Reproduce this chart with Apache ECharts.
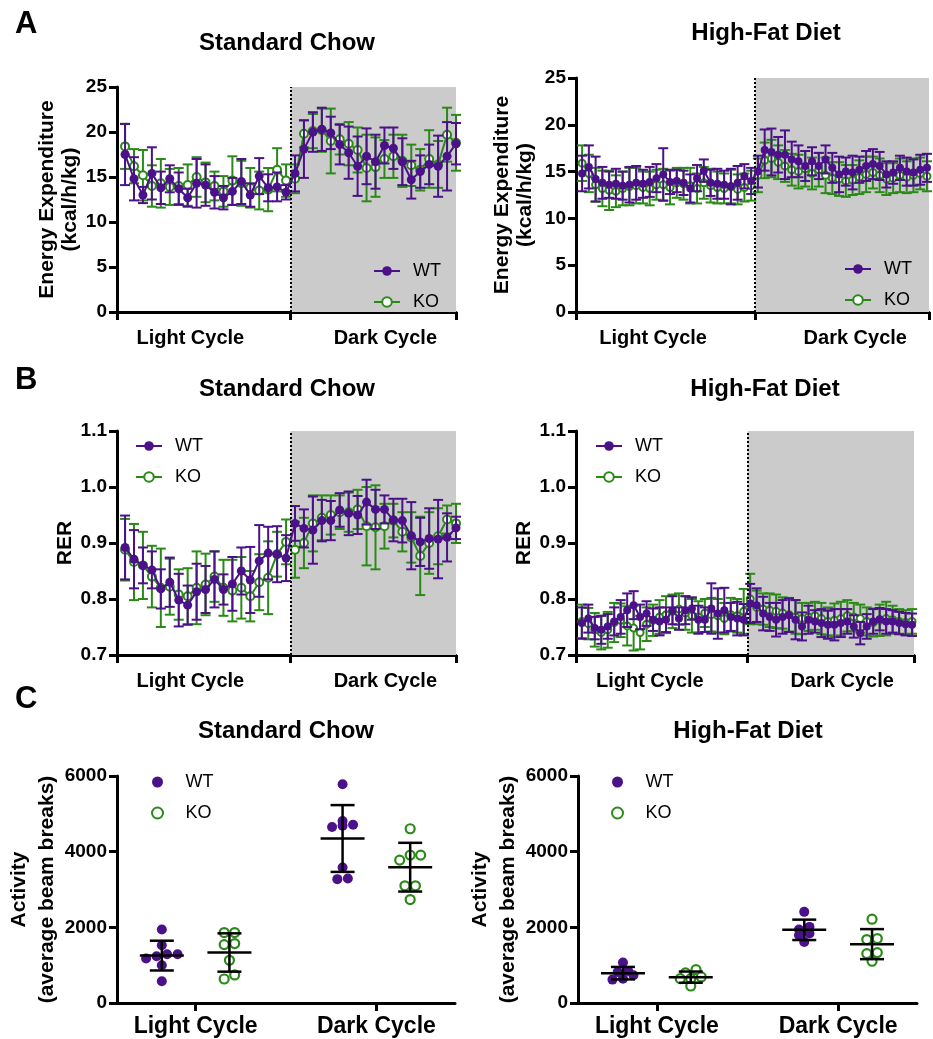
<!DOCTYPE html>
<html>
<head>
<meta charset="utf-8">
<script src="https://cdn.jsdelivr.net/npm/echarts@6/dist/echarts.min.js"></script>
<style>
html, body { margin: 0; padding: 0; background: #fff; }
#chart { width: 933px; height: 1039px; }
</style>
</head>
<body>
<div id="chart"></div>
<script>
// ---------- data ----------
const cycles = ['Light Cycle', 'Dark Cycle'];

// A: energy expenditure (kcal/h/kg), standard chow, 19 light + 19 dark bins
const eeScWt = [17.5, 14.8, 13.0, 15.4, 13.8, 14.8, 13.7, 12.7, 14.3, 14.1, 13.3, 12.7, 13.4, 14.5, 13.0, 15.1, 13.8, 13.9, 13.3,
  15.4, 18.1, 20.0, 20.3, 19.9, 18.6, 17.7, 16.2, 17.3, 16.7, 18.5, 18.2, 16.7, 14.7, 15.6, 16.4, 16.2, 17.3, 18.7];
const eeScWtErr = [3.4, 2.4, 0.9, 2.9, 1.8, 1.5, 1.8, 1.0, 2.7, 2.3, 1.8, 1.3, 1.5, 2.5, 1.3, 2.0, 1.5, 1.6, 0.8,
  2.0, 3.2, 2.2, 2.4, 1.8, 2.2, 2.9, 3.3, 3.1, 3.0, 2.0, 2.3, 2.6, 2.1, 1.8, 2.2, 3.4, 3.8, 2.3];
const eeScKo = [18.4, 16.2, 15.2, 14.0, 14.3, 13.9, 14.0, 14.1, 15.0, 14.4, 14.0, 13.4, 14.6, 14.3, 13.8, 13.5, 13.6, 15.8, 14.6,
  14.8, 19.8, 20.1, 20.2, 19.0, 19.2, 18.7, 18.0, 16.0, 16.1, 17.0, 17.3, 16.8, 16.3, 15.8, 17.0, 16.4, 19.7, 18.8];
const eeScKoErr = [2.5, 1.9, 2.8, 2.3, 2.7, 2.0, 2.0, 2.3, 2.2, 2.2, 1.6, 1.7, 2.7, 2.5, 2.2, 2.1, 2.4, 2.4, 1.8,
  1.6, 1.5, 1.9, 2.4, 3.6, 1.7, 2.4, 2.5, 3.7, 3.3, 2.1, 2.4, 2.9, 2.3, 2.3, 3.2, 2.6, 3.0, 3.1];

// A: energy expenditure, high-fat diet, 26 light + 26 dark bins
const eeHfWt = [14.8, 15.5, 14.2, 13.8, 13.6, 13.7, 13.5, 13.6, 13.8, 13.7, 13.9, 14.3, 14.7, 13.9, 14.0, 13.8, 13.2, 14.3, 15.1, 13.8, 13.7, 13.6, 13.4, 13.8, 14.5, 14.0,
  15.0, 17.3, 17.1, 16.8, 16.8, 16.3, 16.1, 15.6, 16.1, 15.6, 16.3, 15.4, 14.7, 15.0, 14.9, 15.2, 15.6, 15.8, 15.6, 14.7, 14.9, 15.4, 15.0, 14.9, 15.2, 15.4];
const eeHfWtErr = [1.9, 2.3, 2.4, 1.7, 1.4, 1.6, 1.5, 1.9, 1.8, 1.5, 1.6, 1.5, 2.8, 1.3, 1.2, 1.3, 1.5, 1.4, 1.2, 1.4, 1.6, 1.5, 1.9, 1.8, 1.3, 1.4,
  1.7, 2.2, 2.5, 1.9, 2.6, 1.9, 1.7, 1.6, 1.5, 1.4, 1.5, 1.6, 1.9, 1.5, 1.8, 1.4, 1.6, 1.6, 1.5, 1.4, 1.2, 1.3, 1.5, 1.4, 1.6, 1.5];
const eeHfKo = [15.9, 14.8, 13.6, 13.2, 13.0, 12.9, 13.2, 13.4, 13.5, 13.3, 13.2, 13.6, 13.6, 13.3, 13.8, 13.7, 13.5, 13.2, 13.8, 13.5, 13.3, 13.2, 13.4, 13.1, 13.3, 13.5,
  14.6, 16.2, 16.4, 16.0, 15.6, 15.2, 15.0, 15.3, 14.8, 15.2, 14.6, 14.3, 14.2, 14.0, 14.1, 14.4, 14.7, 14.9, 14.6, 14.2, 14.3, 14.6, 14.4, 14.6, 14.8, 14.5];
const eeHfKoErr = [1.9, 2.0, 1.8, 1.9, 2.1, 1.7, 1.8, 2.0, 1.9, 1.7, 1.8, 1.6, 1.7, 1.8, 1.6, 1.7, 1.9, 1.6, 1.7, 1.8, 1.7, 1.6, 1.8, 1.6, 1.5, 1.6,
  1.8, 1.9, 2.0, 1.8, 1.7, 1.7, 1.8, 1.9, 1.7, 1.8, 1.9, 1.7, 1.8, 1.7, 1.6, 1.8, 1.9, 1.7, 1.8, 1.7, 1.6, 1.8, 1.7, 1.8, 1.7, 1.6];

// B: RER, standard chow
const rerScWt = [0.892, 0.871, 0.860, 0.852, 0.818, 0.830, 0.798, 0.789, 0.813, 0.817, 0.835, 0.817, 0.827, 0.850, 0.834, 0.868, 0.882, 0.880, 0.873,
  0.935, 0.926, 0.923, 0.940, 0.940, 0.959, 0.953, 0.950, 0.973, 0.960, 0.960, 0.941, 0.940, 0.913, 0.902, 0.908, 0.907, 0.910, 0.927];
const rerScWtErr = [0.057, 0.052, 0.032, 0.033, 0.035, 0.044, 0.047, 0.035, 0.050, 0.042, 0.050, 0.027, 0.048, 0.042, 0.059, 0.064, 0.047, 0.050, 0.041,
  0.031, 0.034, 0.060, 0.037, 0.035, 0.030, 0.039, 0.034, 0.040, 0.035, 0.025, 0.038, 0.039, 0.060, 0.043, 0.054, 0.070, 0.043, 0.020];
const rerScKo = [0.888, 0.866, 0.860, 0.840, 0.820, 0.822, 0.808, 0.805, 0.820, 0.826, 0.840, 0.820, 0.815, 0.820, 0.805, 0.830, 0.838, 0.880, 0.902,
  0.888, 0.900, 0.935, 0.945, 0.950, 0.955, 0.955, 0.960, 0.930, 0.928, 0.930, 0.940, 0.920, 0.910, 0.877, 0.900, 0.912, 0.942, 0.935];
const rerScKoErr = [0.055, 0.068, 0.060, 0.055, 0.070, 0.050, 0.045, 0.050, 0.065, 0.055, 0.045, 0.050, 0.055, 0.055, 0.045, 0.050, 0.065, 0.040, 0.040,
  0.050, 0.045, 0.050, 0.040, 0.035, 0.030, 0.035, 0.035, 0.070, 0.075, 0.040, 0.030, 0.035, 0.045, 0.070, 0.055, 0.050, 0.025, 0.035];

// B: RER, high-fat diet
const rerHfWt = [0.757, 0.765, 0.748, 0.745, 0.751, 0.760, 0.768, 0.780, 0.789, 0.768, 0.774, 0.763, 0.760, 0.763, 0.780, 0.765, 0.780, 0.783, 0.763, 0.763, 0.783, 0.774, 0.780, 0.768, 0.765, 0.763,
  0.792, 0.789, 0.774, 0.768, 0.763, 0.768, 0.771, 0.763, 0.751, 0.763, 0.760, 0.757, 0.754, 0.754, 0.757, 0.760, 0.751, 0.739, 0.751, 0.760, 0.764, 0.760, 0.760, 0.757, 0.755, 0.754];
const rerHfWtErr = [0.028, 0.025, 0.020, 0.025, 0.022, 0.025, 0.030, 0.030, 0.025, 0.022, 0.022, 0.020, 0.025, 0.022, 0.025, 0.020, 0.025, 0.020, 0.025, 0.022, 0.045, 0.045, 0.040, 0.025, 0.030, 0.028,
  0.035, 0.030, 0.030, 0.025, 0.030, 0.030, 0.030, 0.035, 0.025, 0.025, 0.020, 0.025, 0.025, 0.028, 0.025, 0.022, 0.020, 0.020, 0.022, 0.022, 0.020, 0.022, 0.020, 0.020, 0.020, 0.020];
const rerHfKo = [0.760, 0.756, 0.745, 0.740, 0.745, 0.758, 0.762, 0.752, 0.748, 0.740, 0.755, 0.762, 0.768, 0.772, 0.778, 0.782, 0.775, 0.770, 0.768, 0.775, 0.772, 0.770, 0.765, 0.772, 0.770, 0.778,
  0.800, 0.785, 0.782, 0.780, 0.778, 0.775, 0.772, 0.768, 0.765, 0.768, 0.770, 0.765, 0.760, 0.762, 0.765, 0.770, 0.768, 0.765, 0.760, 0.758, 0.762, 0.765, 0.763, 0.760, 0.758, 0.760];
const rerHfKoErr = [0.030, 0.028, 0.030, 0.030, 0.032, 0.035, 0.030, 0.035, 0.040, 0.030, 0.030, 0.028, 0.030, 0.033, 0.030, 0.028, 0.030, 0.030, 0.028, 0.025, 0.030, 0.030, 0.028, 0.030, 0.030, 0.040,
  0.045, 0.030, 0.028, 0.030, 0.030, 0.028, 0.030, 0.030, 0.028, 0.025, 0.025, 0.028, 0.025, 0.030, 0.030, 0.028, 0.025, 0.025, 0.025, 0.025, 0.028, 0.030, 0.025, 0.022, 0.022, 0.022];

// C: activity (average beam breaks), one value per mouse
const actScWtLight = [1941, 1527, 1288, 1174, 1235, 1288, 997, 574];
const actScWtDark = [5780, 4809, 4686, 4650, 4712, 3583, 3274, 3291];
const actScKoLight = [1862, 1862, 1544, 1571, 1129, 635, 741];
const actScKoDark = [4606, 3909, 3909, 3777, 3097, 3097, 2735];
const actHfWtLight = [1068, 847, 732, 821, 618, 644];
const actHfWtDark = [2409, 1835, 2012, 1941, 1791, 1615];
const actHfKoLight = [794, 882, 644, 688, 644, 450];
const actHfKoDark = [2215, 1703, 1677, 1332, 1306, 1103];

// ---------- style ----------
const FONT = '"Liberation Sans", Arial, Helvetica, sans-serif';
const WT_C = '#4b1188';
const KO_C = '#2b8a17';
const SHADE = '#cbcbcb';

const axisLineStyle = { color: '#000', width: 3 };

const chart = echarts.init(document.getElementById('chart'));

const grids = [], xAxes = [], yAxes = [], series = [], legends = [];

function yAxisCfg(gi, min, max, interval, name, nameGap, lineH, fmt) {
  return {
    type: 'value', gridIndex: gi, min: min, max: max, interval: interval,
    axisLine: { show: true, onZero: false, lineStyle: axisLineStyle },
    axisTick: { show: true, length: 8, lineStyle: axisLineStyle },
    axisLabel: { margin: 10, color: '#000', fontSize: 19, fontWeight: 'bold', fontFamily: FONT, formatter: fmt },
    splitLine: { show: false },
    name: name, nameLocation: 'middle', nameRotate: 90, nameGap: nameGap,
    nameTextStyle: { color: '#000', fontSize: 21, fontWeight: 'bold', fontFamily: FONT, lineHeight: lineH }
  };
}

function errBars(name, gi, means, errs, color, cap, z) {
  return {
    type: 'custom', name: name, xAxisIndex: gi, yAxisIndex: gi, z: z, silent: true,
    data: means.map((m, i) => [i, m - errs[i], m + errs[i]]),
    encode: { x: 0, y: [1, 2] },
    renderItem(params, api) {
      const x = api.value(0);
      const lo = api.coord([x, api.value(1)]);
      const hi = api.coord([x, api.value(2)]);
      const st = { stroke: color, lineWidth: 2, fill: null };
      return {
        type: 'group', children: [
          { type: 'line', shape: { x1: lo[0], y1: lo[1], x2: hi[0], y2: hi[1] }, style: st },
          { type: 'line', shape: { x1: hi[0] - cap, y1: hi[1], x2: hi[0] + cap, y2: hi[1] }, style: st },
          { type: 'line', shape: { x1: lo[0] - cap, y1: lo[1], x2: lo[0] + cap, y2: lo[1] }, style: st }
        ]
      };
    }
  };
}

// time-course panel (A and B)
function linePanel(p) {
  const gi = grids.length;
  grids.push(p.grid);
  xAxes.push({
    type: 'value', gridIndex: gi, min: p.xMin, max: p.xMax,
    axisLine: { show: true, onZero: false, lineStyle: axisLineStyle },
    axisTick: { show: true, length: 8, lineStyle: axisLineStyle, customValues: [p.xMin, p.bnd, p.xMax] },
    axisLabel: {
      show: true, customValues: p.labelAt, margin: 16, color: '#000', fontSize: 20, fontWeight: 'bold', fontFamily: FONT,
      formatter: v => (v < p.bnd ? cycles[0] : cycles[1])
    },
    splitLine: { show: false }
  });
  yAxes.push(yAxisCfg(gi, p.yMin, p.yMax, p.yInt, p.yName, p.nameGap, 23, p.fmt));
  series.push({
    type: 'line', name: 'bg' + gi, xAxisIndex: gi, yAxisIndex: gi, data: [], z: 1, silent: true,
    markArea: { silent: true, itemStyle: { color: SHADE }, data: [[{ xAxis: p.bnd }, { xAxis: p.xMax }]] },
    markLine: {
      silent: true, symbol: 'none', label: { show: false },
      lineStyle: { color: '#000', type: [2, 2], width: 2 }, data: [{ xAxis: p.bnd }]
    }
  });
  const wtName = 'WT|' + gi, koName = 'KO|' + gi;
  series.push(errBars('koErr' + gi, gi, p.ko, p.koErr, KO_C, 5, 2));
  series.push({
    type: 'line', name: koName, xAxisIndex: gi, yAxisIndex: gi, z: 3,
    data: p.ko.map((v, i) => [i, v]), symbol: 'circle', symbolSize: p.sym - 1,
    itemStyle: { color: '#fff', borderColor: KO_C, borderWidth: 2 },
    lineStyle: { color: KO_C, width: 2 }
  });
  series.push(errBars('wtErr' + gi, gi, p.wt, p.wtErr, WT_C, 5, 4));
  series.push({
    type: 'line', name: wtName, xAxisIndex: gi, yAxisIndex: gi, z: 5,
    data: p.wt.map((v, i) => [i, v]), symbol: 'circle', symbolSize: p.sym,
    itemStyle: { color: WT_C },
    lineStyle: { color: WT_C, width: 2 }
  });
  legends.push({
    left: p.legend[0], top: p.legend[1], orient: 'vertical', itemWidth: 26, itemHeight: 12, itemGap: 13,
    padding: 0, selectedMode: false, data: [wtName, koName],
    formatter: n => n.split('|')[0],
    textStyle: { color: '#000', fontSize: 18, fontFamily: FONT, padding: [0, 0, 0, 8] }
  });
}

// simple beeswarm: points closer than thresh share a row and are spread sideways (pixels)
function swarm(values, thresh, step) {
  const idx = values.map((v, i) => i).sort((a, b) => values[a] - values[b]);
  const off = new Array(values.length).fill(0);
  let i = 0;
  while (i < idx.length) {
    let j = i;
    while (j + 1 < idx.length && values[idx[j + 1]] - values[idx[i]] < thresh) j++;
    const n = j - i + 1;
    for (let k = 0; k < n; k++) off[idx[i + k]] = (k - (n - 1) / 2) * step;
    i = j + 1;
  }
  return off;
}

function meanSd(vals) {
  const m = vals.reduce((a, b) => a + b, 0) / vals.length;
  const sd = Math.sqrt(vals.reduce((a, b) => a + (b - m) * (b - m), 0) / (vals.length - 1));
  return [m, sd];
}

// scatter panel (C)
function dotPanel(p) {
  const gi = grids.length;
  const GO = 0.187; // group offset from cycle tick
  const X_MIN = 0.565, X_MAX = 2.435;
  const pxPerUnit = p.grid.width / (X_MAX - X_MIN);
  grids.push(p.grid);
  xAxes.push({
    type: 'value', gridIndex: gi, min: X_MIN, max: X_MAX,
    axisLine: { show: true, onZero: false, lineStyle: axisLineStyle },
    axisTick: { show: true, length: 8, lineStyle: axisLineStyle, customValues: [1, 2] },
    axisLabel: {
      show: true, customValues: [1, 2], margin: 12, color: '#000', fontSize: 23, fontWeight: 'bold', fontFamily: FONT,
      formatter: v => cycles[Math.round(v) - 1]
    },
    splitLine: { show: false }
  });
  yAxes.push(yAxisCfg(gi, 0, 6000, 2000, 'Activity\n(average beam breaks)', p.nameGap, 28, v => v));
  const groups = [
    { vals: p.wtLight, x: 1 - GO }, { vals: p.wtDark, x: 2 - GO },
    { vals: p.koLight, x: 1 + GO }, { vals: p.koDark, x: 2 + GO }
  ];
  const pts = g => {
    const off = swarm(g.vals, 150, 10.5);
    return g.vals.map((v, i) => [g.x + off[i] / pxPerUnit, v]);
  };
  const wtName = 'WT|' + gi, koName = 'KO|' + gi;
  series.push({
    type: 'scatter', name: wtName, xAxisIndex: gi, yAxisIndex: gi, z: 3,
    data: pts(groups[0]).concat(pts(groups[1])), symbol: 'circle', symbolSize: 10,
    itemStyle: { color: WT_C, opacity: 1 }
  });
  series.push({
    type: 'scatter', name: koName, xAxisIndex: gi, yAxisIndex: gi, z: 3,
    data: pts(groups[2]).concat(pts(groups[3])), symbol: 'circle', symbolSize: 9,
    itemStyle: { color: '#fff', borderColor: KO_C, borderWidth: 2.2, opacity: 1 }
  });
  series.push({
    type: 'custom', name: 'mean' + gi, xAxisIndex: gi, yAxisIndex: gi, z: 6, silent: true,
    data: groups.map(g => [g.x].concat(meanSd(g.vals))),
    encode: { x: 0, y: 1 },
    renderItem(params, api) {
      const x = api.value(0), m = api.value(1), sd = api.value(2);
      const c = api.coord([x, m]), t = api.coord([x, m + sd]), b = api.coord([x, m - sd]);
      const st = { stroke: '#000', lineWidth: 2.5, fill: null };
      return {
        type: 'group', children: [
          { type: 'line', shape: { x1: c[0] - 22, y1: c[1], x2: c[0] + 22, y2: c[1] }, style: st },
          { type: 'line', shape: { x1: t[0], y1: t[1], x2: b[0], y2: b[1] }, style: st },
          { type: 'line', shape: { x1: t[0] - 12, y1: t[1], x2: t[0] + 12, y2: t[1] }, style: st },
          { type: 'line', shape: { x1: b[0] - 12, y1: b[1], x2: b[0] + 12, y2: b[1] }, style: st }
        ]
      };
    }
  });
  legends.push({
    left: p.legend[0], top: p.legend[1], orient: 'vertical', itemWidth: 40, itemHeight: 11, itemGap: 13,
    padding: 0, selectedMode: false, data: [wtName, koName],
    formatter: n => n.split('|')[0],
    textStyle: { color: '#000', fontSize: 18, fontFamily: FONT, padding: [0, 0, 0, 3] }
  });
}

const eeName = 'Energy Expenditure\n(kcal/h/kg)';
const intFmt = v => v;
const rerFmt = v => v.toFixed(1);

linePanel({ grid: { left: 117, top: 87, width: 339, height: 225 }, xMin: -0.9, xMax: 37, bnd: 18.5, labelAt: [7.3, 29.1],
  yMin: 0, yMax: 25, yInt: 5, yName: eeName, nameGap: 34, fmt: intFmt, sym: 9,
  wt: eeScWt, wtErr: eeScWtErr, ko: eeScKo, koErr: eeScKoErr, legend: [373, 262] });
linePanel({ grid: { left: 576, top: 78, width: 353, height: 234 }, xMin: -0.9, xMax: 51.3, bnd: 25.6, labelAt: [10.5, 40.4],
  yMin: 0, yMax: 25, yInt: 5, yName: eeName, nameGap: 39, fmt: intFmt, sym: 8,
  wt: eeHfWt, wtErr: eeHfWtErr, ko: eeHfKo, koErr: eeHfKoErr, legend: [844, 260] });
linePanel({ grid: { left: 117, top: 431, width: 339, height: 224 }, xMin: -0.9, xMax: 37, bnd: 18.5, labelAt: [7.3, 29.1],
  yMin: 0.7, yMax: 1.1, yInt: 0.1, yName: 'RER', nameGap: 37, fmt: rerFmt, sym: 9,
  wt: rerScWt, wtErr: rerScWtErr, ko: rerScKo, koErr: rerScKoErr, legend: [135, 437] });
linePanel({ grid: { left: 576, top: 431, width: 338, height: 224 }, xMin: -0.9, xMax: 51.3, bnd: 25.6, labelAt: [10.5, 40.2],
  yMin: 0.7, yMax: 1.1, yInt: 0.1, yName: 'RER', nameGap: 37, fmt: rerFmt, sym: 8,
  wt: rerHfWt, wtErr: rerHfWtErr, ko: rerHfKo, koErr: rerHfKoErr, legend: [595, 437] });
dotPanel({ grid: { left: 117, top: 776, width: 338, height: 227 }, nameGap: 55,
  wtLight: actScWtLight, wtDark: actScWtDark, koLight: actScKoLight, koDark: actScKoDark, legend: [151, 773] });
dotPanel({ grid: { left: 578, top: 776, width: 339, height: 227 }, nameGap: 55,
  wtLight: actHfWtLight, wtDark: actHfWtDark, koLight: actHfKoLight, koDark: actHfKoDark, legend: [611, 773] });

const titles = [
  ['Standard Chow', 287, 43], ['High-Fat Diet', 766, 33],
  ['Standard Chow', 287, 389], ['High-Fat Diet', 765, 389],
  ['Standard Chow', 286, 731], ['High-Fat Diet', 748, 731]
];
const letters = [['A', 15, 24], ['B', 15, 380], ['C', 15, 699]];

const graphics = titles.map(t => ({
  type: 'text', x: t[1], y: t[2], silent: true,
  style: { text: t[0], fill: '#000', font: 'bold 24px ' + FONT, align: 'center', verticalAlign: 'middle' }
})).concat(letters.map(t => ({
  type: 'text', x: t[1], y: t[2], silent: true,
  style: { text: t[0], fill: '#000', font: 'bold 31px ' + FONT, align: 'left', verticalAlign: 'middle' }
})));

chart.setOption({
  animation: false,
  backgroundColor: '#fff',
  grid: grids,
  xAxis: xAxes,
  yAxis: yAxes,
  legend: legends,
  graphic: graphics,
  series: series
});
</script>
</body>
</html>
